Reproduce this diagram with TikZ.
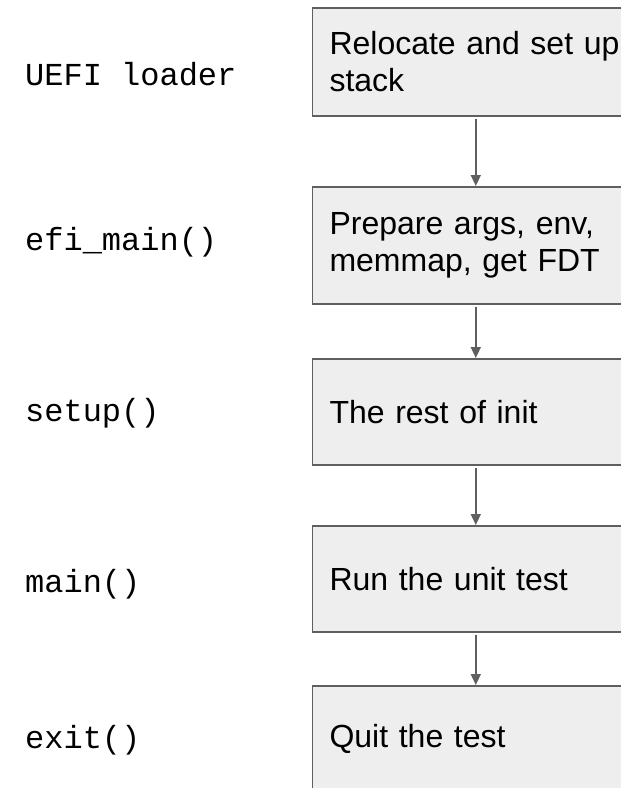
\documentclass[tikz,border=0pt]{standalone}
\usepackage{fontspec}
\setmainfont{Liberation Sans}
\setmonofont{Liberation Mono}
\usetikzlibrary{arrows.meta}
\definecolor{boxfill}{HTML}{EEEEEE}
\definecolor{boxline}{HTML}{5F5F5F}

\begin{document}
\begin{tikzpicture}[x=1pt, y=1pt,
  stepbox/.style = {draw=boxline, fill=boxfill, line width=1.6pt, anchor=north west, minimum width=326.6pt, text width=292.6pt, inner xsep=17pt, inner ysep=0pt, align=left, font=\fontsize{32}{37}\selectfont},
  fnlabel/.style = {anchor=base west, inner sep=0pt, font=\ttfamily\fontsize{32}{37}\selectfont},
  flow/.style = {draw=boxline, line width=1.6pt, -{Triangle[width=10pt, length=11pt]}, shorten <=2pt}]
\useasboundingbox (0,0) rectangle (621,-788);
\clip (0,0) rectangle (621,-788);
\node[stepbox, minimum height=108pt](reloc) at (311.7,-7){Relocate and set up\\stack};
\node[stepbox, minimum height=117pt](prep) at (311.7,-186){Prepare args, env,\\memmap, get FDT};
\node[stepbox, minimum height=106pt](init) at (311.7,-358){The rest of init};
\node[stepbox, minimum height=106pt](run) at (311.7,-525){Run the unit test};
\node[stepbox, minimum height=107pt](quit) at (311.7,-685){Quit the test};
\node[fnlabel](loader) at (25,-85){UEFI loader};
\node[fnlabel](efimain) at (25,-250){efi\_main()};
\node[fnlabel](setup) at (25,-421.7){setup()};
\node[fnlabel](main) at (25,-592.3){main()};
\node[fnlabel](exit) at (25,-748.3){exit()};
\draw[flow] (reloc) -- (prep);
\draw[flow] (prep) -- (init);
\draw[flow] (init) -- (run);
\draw[flow] (run) -- (quit);
\end{tikzpicture}
\end{document}
